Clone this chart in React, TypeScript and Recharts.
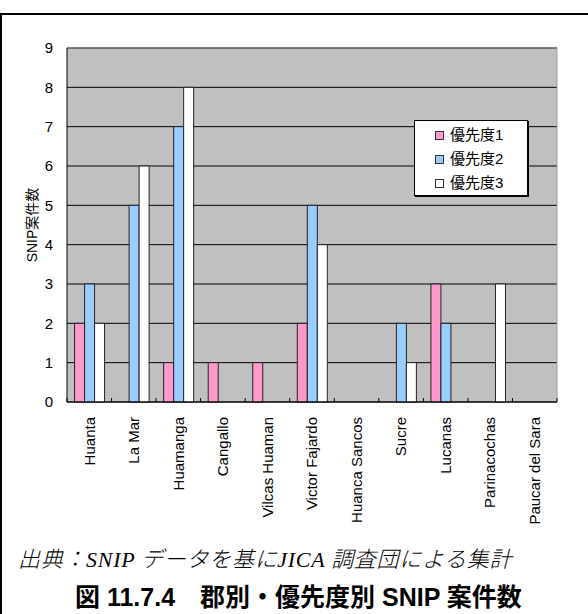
import React from 'react';
import { BarChart, Bar, XAxis, YAxis, CartesianGrid, Legend, ReferenceLine } from 'recharts';

const districts = [
  'Huanta', 'La Mar', 'Huamanga', 'Cangallo', 'Vilcas Huaman', 'Victor Fajardo',
  'Huanca Sancos', 'Sucre', 'Lucanas', 'Parinacochas', 'Paucar del Sara',
];
const priority1 = [2, 0, 1, 1, 1, 2, 0, 0, 3, 0, 0];
const priority2 = [3, 5, 7, 0, 0, 5, 0, 2, 2, 0, 0];
const priority3 = [2, 6, 8, 0, 0, 4, 0, 1, 0, 3, 0];
const seriesNames = ['優先度1', '優先度2', '優先度3'];
const seriesColors = ['#FF99CC', '#99CCFF', '#FFFFFF'];
const yTicks = [0, 1, 2, 3, 4, 5, 6, 7, 8, 9];

const data = districts.map((name, i) => ({
  name,
  p1: priority1[i],
  p2: priority2[i],
  p3: priority3[i],
}));

const SANS = '"Liberation Sans", Arial, "Noto Sans CJK JP", sans-serif';

const DistrictTick = (props: any) => {
  const { x, y, payload, index } = props;
  const half = payload.offset || 489 / 22;
  const ty = y + 15;
  return (
    <g>
      <line x1={x - half} y1={y} x2={x - half} y2={y - 4} stroke="#000" />
      {index === districts.length - 1 && (
        <line x1={x + half} y1={y} x2={x + half} y2={y - 4} stroke="#000" />
      )}
      <text
        x={x}
        y={ty}
        transform={`rotate(-90 ${x} ${ty})`}
        textAnchor="end"
        dy="0.35em"
        fontSize={15}
        fontFamily={SANS}
        fill="#000"
      >
        {payload.value}
      </text>
    </g>
  );
};

const renderLegend = ({ payload }: any) => (
  <div
    style={{
      width: 112,
      height: 72,
      paddingTop: 2,
      border: '1px solid #000',
      boxShadow: '1px 1px 0 #000',
      background: '#fff',
      fontFamily: SANS,
      fontSize: 15,
    }}
  >
    {(payload || []).map((entry: any) => (
      <div key={entry.value} style={{ display: 'flex', alignItems: 'center', height: 24, paddingLeft: 20 }}>
        <span
          style={{
            display: 'inline-block',
            width: 7,
            height: 7,
            border: '1px solid #333',
            background: entry.color,
            marginRight: 6,
          }}
        />
        <span style={{ color: '#000', lineHeight: '24px' }}>{entry.value}</span>
      </div>
    ))}
  </div>
);

export default function App() {
  return (
    <div style={{ position: 'absolute', left: 0, top: 0, width: 588, height: 614, overflow: 'hidden', background: '#fff', fontFamily: SANS }}>
      <div style={{ position: 'absolute', left: 0, top: 13, width: 620, height: 640, borderTop: '2px solid #000', borderLeft: '2px solid #000' }} />
      <div style={{ position: 'absolute', left: 0, top: 0 }}>
        <BarChart
          width={588}
          height={540}
          data={data}
          margin={{ top: 48, right: 0, left: 0, bottom: 0 }}
          barCategoryGap="17%"
          barGap={0}
        >
          <CartesianGrid vertical={false} stroke="#000" fill="#C0C0C0" fillOpacity={1} />
          <ReferenceLine y={9} stroke="#808080" />
          <XAxis
            dataKey="name"
            interval={0}
            height={138}
            tickSize={0}
            tickMargin={0}
            tickLine={false}
            axisLine={{ stroke: '#000' }}
            tick={<DistrictTick />}
          />
          <YAxis
            width={67}
            domain={[0, 9]}
            ticks={yTicks}
            tickSize={0}
            tickMargin={14}
            tickLine={false}
            axisLine={{ stroke: '#000' }}
            tick={{ fontSize: 15, fill: '#000', fontFamily: SANS }}
          />
          <YAxis
            yAxisId="r"
            orientation="right"
            width={31}
            domain={[0, 9]}
            tick={false}
            tickLine={false}
            axisLine={{ stroke: '#a0a0a0' }}
          />
          <Legend
            layout="vertical"
            align="center"
            verticalAlign="middle"
            wrapperStyle={{ left: 414, top: 120, width: 114, height: 75 }}
            content={renderLegend}
          />
          <Bar dataKey="p1" name={seriesNames[0]} fill={seriesColors[0]} stroke="#222" strokeWidth={1} isAnimationActive={false} />
          <Bar dataKey="p2" name={seriesNames[1]} fill={seriesColors[1]} stroke="#222" strokeWidth={1} isAnimationActive={false} />
          <Bar dataKey="p3" name={seriesNames[2]} fill={seriesColors[2]} stroke="#222" strokeWidth={1} isAnimationActive={false} />
        </BarChart>
      </div>
      <div
        style={{
          position: 'absolute',
          left: 31,
          top: 225,
          transform: 'translate(-50%, -50%) rotate(-90deg)',
          whiteSpace: 'nowrap',
          fontSize: 14,
          color: '#000',
        }}
      >
        SNIP案件数
      </div>
      <div
        style={{
          position: 'absolute',
          left: 18,
          top: 546,
          whiteSpace: 'nowrap',
          fontSize: 22,
          lineHeight: '28px',
          letterSpacing: 0.7,
          fontStyle: 'italic',
          fontWeight: 300,
          fontFamily: '"Liberation Serif", "Times New Roman", "Noto Sans CJK JP", serif',
          color: '#000',
        }}
      >
        出典：SNIP データを基にJICA 調査団による集計
      </div>
      <div
        style={{
          position: 'absolute',
          left: 75,
          top: 582,
          whiteSpace: 'nowrap',
          fontSize: 25,
          lineHeight: '30px',
          fontWeight: 'bold',
          color: '#000',
        }}
      >
        図 11.7.4　郡別・優先度別 SNIP 案件数
      </div>
    </div>
  );
}
